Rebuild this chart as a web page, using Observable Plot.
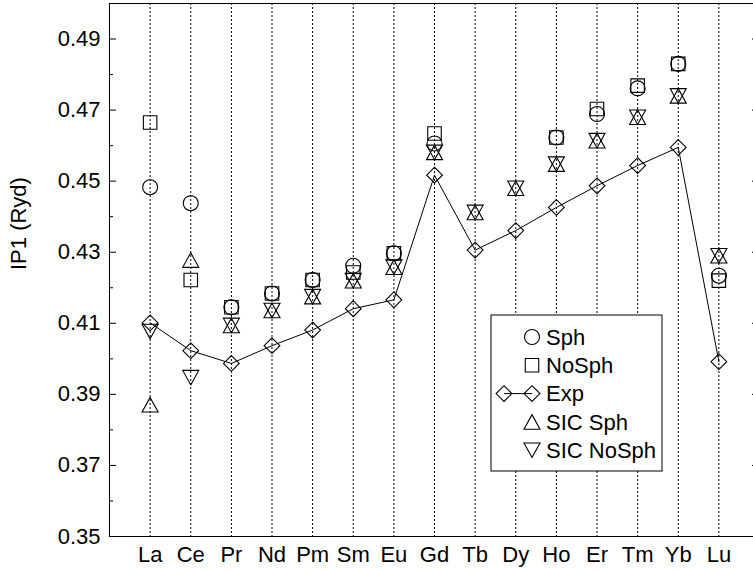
<!DOCTYPE html>
<html>
<head>
<meta charset="utf-8">
<script src="https://cdn.jsdelivr.net/npm/d3@7"></script>
<script src="https://cdn.jsdelivr.net/npm/@observablehq/plot@0.6"></script>
<style>
  html, body { margin: 0; padding: 0; background: white; overflow: hidden; }
  #wrap { position: relative; width: 753px; height: 570px; overflow: hidden; }
  #wrap svg.plot { max-width: none !important; }
  #legend { position: absolute; left: 0; top: 0; }
</style>
</head>
<body>
<div id="wrap"></div>
<script>
// ---- data ----
const elements = ["La","Ce","Pr","Nd","Pm","Sm","Eu","Gd","Tb","Dy","Ho","Er","Tm","Yb","Lu"];
const sph      = [0.4483,0.4438,0.4145,0.4184,0.4222,0.4262,0.4297,0.4606,null,null,0.4623,0.4689,0.4761,0.4830,0.4234];
const noSph    = [0.4665,0.4222,0.4145,0.4184,0.4222,0.4243,0.4297,0.4634,null,null,0.4623,0.4703,0.4769,0.4830,0.4220];
const expVals  = [0.4101,0.4023,0.3987,0.4037,0.4081,0.4141,0.4166,0.4517,0.4306,0.4361,0.4426,0.4487,0.4544,0.4595,0.3992];
const sicSph   = [0.3871,0.4278,0.4094,0.4136,0.4175,0.4220,0.4258,0.4581,0.4412,0.4480,0.4548,0.4614,0.4680,0.4740,0.4290];
const sicNoSph = [0.4077,0.3947,0.4094,0.4136,0.4175,0.4220,0.4258,0.4581,0.4412,0.4480,0.4548,0.4614,0.4680,0.4740,0.4290];
const yTickLabels = [0.35,0.37,0.39,0.41,0.43,0.45,0.47,0.49];
const yMinorTicks = [0.36,0.38,0.40,0.42,0.44,0.46,0.48];
const seriesNames = ["Sph","NoSph","Exp","SIC Sph","SIC NoSph"];

// ---- gnuplot-like open symbols (centered on bounding box) ----
const R = s => Math.sqrt(s / Math.PI);
const symCircle = {draw(c, size){ const s = R(size); c.moveTo(s,0); c.arc(0,0,s,0,2*Math.PI); c.closePath(); }};
const symSquare = {draw(c, size){ const a = R(size)*0.9; c.rect(-a,-a,2*a,2*a); }};
const symDiamond = {draw(c, size){ const a = R(size)*1.05; c.moveTo(0,-a); c.lineTo(a,0); c.lineTo(0,a); c.lineTo(-a,0); c.closePath(); }};
const symTriUp = {draw(c, size){ const s = R(size), w = s*1.07, h = s*0.97; c.moveTo(0,-h); c.lineTo(w,h); c.lineTo(-w,h); c.closePath(); }};
const symTriDown = {draw(c, size){ const s = R(size), w = s*1.07, h = s*0.97; c.moveTo(0,h); c.lineTo(w,-h); c.lineTo(-w,-h); c.closePath(); }};
const symbols = [symCircle, symSquare, symDiamond, symTriUp, symTriDown];

const idx = elements.map((_, i) => i + 1);
const toRows = vals => vals.map((v, i) => ({x: i + 1, y: v})).filter(d => d.y != null);

const FONT = "'Liberation Sans', Arial, Helvetica, sans-serif";
const FS = 22;
const pxPerUnitX = 650 / 16;
const majorLen = 7 / pxPerUnitX, minorLen = 4 / pxPerUnitX;

const dotOpts = (sym) => ({x: "x", y: "y", symbol: sym, r: 7.5, stroke: "black", fill: "none", strokeWidth: 1.1});

const plot = Plot.plot({
  width: 759,
  height: 570,
  marginLeft: 109,
  marginRight: 0,
  marginTop: 3,
  marginBottom: 34,
  style: {fontSize: FS + "px", fontFamily: FONT, color: "black", background: "white"},
  x: {domain: [0, 16], ticks: idx, tickFormat: i => elements[i - 1], tickSize: 0, tickPadding: 10, label: null},
  y: {domain: [0.35, 0.50], ticks: yTickLabels, tickFormat: d => d.toFixed(2), tickSize: 0, tickPadding: 9, label: null},
  marks: [
    Plot.ruleX(idx, {x: d => d, stroke: "black", strokeWidth: 1, strokeDasharray: "2,2"}),
    Plot.ruleY(yTickLabels, {y: d => d, x1: 0, x2: majorLen, stroke: "black"}),
    Plot.ruleY(yMinorTicks, {y: d => d, x1: 0, x2: minorLen, stroke: "black"}),
    Plot.ruleY(yTickLabels, {y: d => d, x1: 16 - majorLen, x2: 16, stroke: "black"}),
    Plot.ruleY(yMinorTicks, {y: d => d, x1: 16 - minorLen, x2: 16, stroke: "black"}),
    Plot.line(toRows(expVals), {x: "x", y: "y", stroke: "black", strokeWidth: 1}),
    Plot.dot(toRows(sph), dotOpts(symCircle)),
    Plot.dot(toRows(noSph), dotOpts(symSquare)),
    Plot.dot(toRows(expVals), dotOpts(symDiamond)),
    Plot.dot(toRows(sicSph), dotOpts(symTriUp)),
    Plot.dot(toRows(sicNoSph), dotOpts(symTriDown)),
    Plot.text(["IP1 (Ryd)"], {frameAnchor: "left", rotate: -90, dx: -91, fontSize: FS, fill: "black"}),
    Plot.frame({stroke: "black", strokeWidth: 1})
  ]
});
plot.classList.add("plot");
document.getElementById("wrap").appendChild(plot);

// ---- legend overlay (inside plot frame, white box) ----
const ns = "http://www.w3.org/2000/svg";
const leg = document.createElementNS(ns, "svg");
leg.setAttribute("id", "legend");
leg.setAttribute("width", 753);
leg.setAttribute("height", 570);
const box = {x: 491, y: 315, w: 171, h: 156};
const rect = document.createElementNS(ns, "rect");
Object.entries({x: box.x, y: box.y, width: box.w, height: box.h, fill: "white", stroke: "black", "stroke-width": 1}).forEach(([k, v]) => rect.setAttribute(k, v));
leg.appendChild(rect);
const symX = 532, textX = 546, rowY0 = 337, rowDy = 28.3;
const pathFor = (sym) => { const p = d3.path(); sym.draw(p, 7.5 * 7.5 * Math.PI); return p.toString(); };
seriesNames.forEach((name, i) => {
  const cy = rowY0 + i * rowDy;
  const g = document.createElementNS(ns, "g");
  if (name === "Exp") {
    const ln = document.createElementNS(ns, "line");
    Object.entries({x1: 504, x2: symX, y1: cy, y2: cy, stroke: "black", "stroke-width": 1}).forEach(([k, v]) => ln.setAttribute(k, v));
    g.appendChild(ln);
    [504, symX].forEach(px => {
      const p = document.createElementNS(ns, "path");
      p.setAttribute("d", pathFor(symbols[i]));
      p.setAttribute("transform", `translate(${px},${cy})`);
      p.setAttribute("fill", "none"); p.setAttribute("stroke", "black"); p.setAttribute("stroke-width", 1.1);
      g.appendChild(p);
    });
  } else {
    const p = document.createElementNS(ns, "path");
    p.setAttribute("d", pathFor(symbols[i]));
    p.setAttribute("transform", `translate(${symX},${cy})`);
    p.setAttribute("fill", "none"); p.setAttribute("stroke", "black"); p.setAttribute("stroke-width", 1.1);
    g.appendChild(p);
  }
  const t = document.createElementNS(ns, "text");
  t.setAttribute("x", textX); t.setAttribute("y", cy);
  t.setAttribute("dy", "0.35em");
  t.setAttribute("font-family", FONT); t.setAttribute("font-size", FS);
  t.setAttribute("fill", "black");
  t.textContent = name;
  g.appendChild(t);
  leg.appendChild(g);
});
document.getElementById("wrap").appendChild(leg);
</script>
</body>
</html>
